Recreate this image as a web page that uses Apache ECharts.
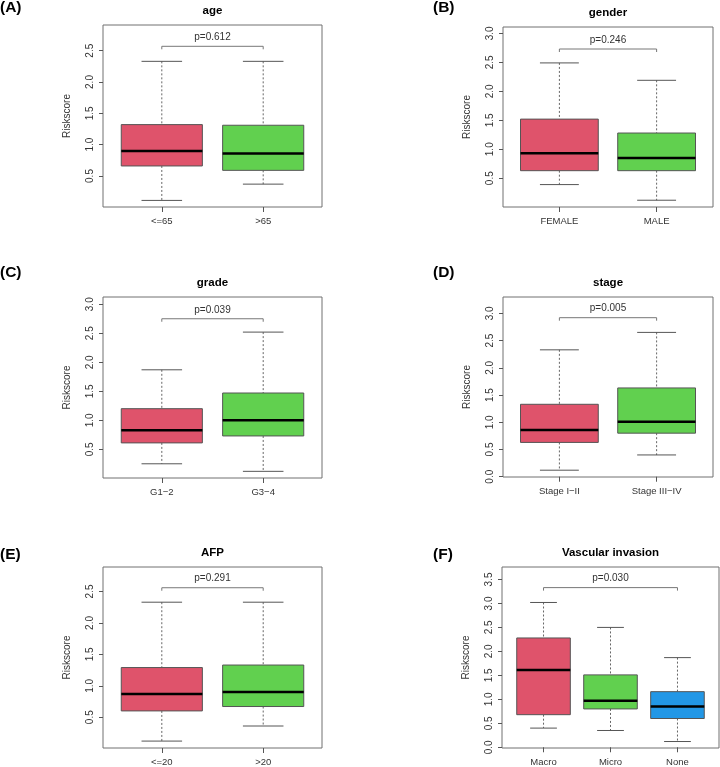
<!DOCTYPE html>
<html>
<head>
<meta charset="utf-8">
<script src="https://cdn.jsdelivr.net/npm/echarts@6/dist/echarts.min.js"></script>
<style>
  html, body { margin: 0; padding: 0; background: #fff; }
  #main { width: 720px; height: 767px; }
</style>
</head>
<body>
<div id="main"></div>
<script>
// box stats per group: [lower whisker, Q1, median, Q3, upper whisker]
var ageCats = ['<=65', '>65']
var ageStats = [[0.11, 0.66, 0.90, 1.32, 2.33], [0.37, 0.59, 0.86, 1.31, 2.33]]
var genderCats = ['FEMALE', 'MALE']
var genderStats = [[0.39, 0.63, 0.93, 1.52, 2.49], [0.12, 0.63, 0.85, 1.28, 2.19]]
var gradeCats = ['G1\u22122', 'G3\u22124']
var gradeStats = [[0.25, 0.61, 0.83, 1.20, 1.87], [0.12, 0.73, 1.00, 1.47, 2.52]]
var stageCats = ['Stage I\u2212II', 'Stage III\u2212IV']
var stageStats = [[0.12, 0.63, 0.86, 1.33, 2.33], [0.40, 0.80, 1.01, 1.63, 2.65]]
var afpCats = ['<=20', '>20']
var afpStats = [[0.12, 0.60, 0.87, 1.29, 2.33], [0.36, 0.67, 0.90, 1.33, 2.33]]
var vascCats = ['Macro', 'Micro', 'None']
var vascStats = [[0.40, 0.68, 1.61, 2.28, 3.02], [0.35, 0.80, 0.97, 1.51, 2.50], [0.12, 0.60, 0.85, 1.16, 1.87]]

var pLabels = ['p=0.612', 'p=0.246', 'p=0.039', 'p=0.005', 'p=0.291', 'p=0.030']
var bracketY = [2.57, 2.73, 2.75, 2.92, 2.56, 3.33]
var ticksA = [0.5, 1.0, 1.5, 2.0, 2.5]
var ticksB = [0.5, 1.0, 1.5, 2.0, 2.5, 3.0]
var ticksD = [0.0, 0.5, 1.0, 1.5, 2.0, 2.5, 3.0]
var ticksF = [0.0, 0.5, 1.0, 1.5, 2.0, 2.5, 3.0, 3.5]

var boxColors = ['#DF536B', '#61D04F', '#2297E6']

// layout of the six panels
var panels = [
  { tag: '(A)', title: 'age', cats: ageCats, stats: ageStats, ticks: ticksA, ymin: 0.005, ymax: 2.91,
    rect: [103, 25, 219, 182], tagPos: [0, 8] },
  { tag: '(B)', title: 'gender', cats: genderCats, stats: genderStats, ticks: ticksB, ymin: 0.003, ymax: 3.11,
    rect: [503, 27, 210, 180], tagPos: [433, 8] },
  { tag: '(C)', title: 'grade', cats: gradeCats, stats: gradeStats, ticks: ticksB, ymin: 0.005, ymax: 3.125,
    rect: [103, 297, 219, 181], tagPos: [0, 273] },
  { tag: '(D)', title: 'stage', cats: stageCats, stats: stageStats, ticks: ticksD, ymin: -0.005, ymax: 3.30,
    rect: [503, 297, 210, 180], tagPos: [433, 273] },
  { tag: '(E)', title: 'AFP', cats: afpCats, stats: afpStats, ticks: ticksA, ymin: 0.01, ymax: 2.89,
    rect: [103, 567, 219, 181], tagPos: [0, 555] },
  { tag: '(F)', title: 'Vascular invasion', cats: vascCats, stats: vascStats, ticks: ticksF, ymin: -0.015, ymax: 3.76,
    rect: [502, 567, 217, 181], tagPos: [433, 555] }
]

var FONT = 'Liberation Sans, Arial, Helvetica, sans-serif'

function renderBox(params, api) {
  var x = api.value(0)
  var lo = api.value(1), q1 = api.value(2), med = api.value(3), q3 = api.value(4), hi = api.value(5)
  var cx = api.coord([x, med])[0]
  var xl = api.coord([x - 0.4, med])[0], xr = api.coord([x + 0.4, med])[0]
  var sl = api.coord([x - 0.2, med])[0], sr = api.coord([x + 0.2, med])[0]
  var yLo = api.coord([x, lo])[1], yQ1 = api.coord([x, q1])[1], yMed = api.coord([x, med])[1]
  var yQ3 = api.coord([x, q3])[1], yHi = api.coord([x, hi])[1]
  var whisk = { stroke: '#666', lineWidth: 1, lineDash: [2, 2] }
  var cap = { stroke: '#555', lineWidth: 1 }
  return {
    type: 'group',
    children: [
      { type: 'line', shape: { x1: cx, y1: yHi, x2: cx, y2: yQ3 }, style: whisk },
      { type: 'line', shape: { x1: cx, y1: yQ1, x2: cx, y2: yLo }, style: whisk },
      { type: 'line', shape: { x1: sl, y1: yHi, x2: sr, y2: yHi }, style: cap },
      { type: 'line', shape: { x1: sl, y1: yLo, x2: sr, y2: yLo }, style: cap },
      { type: 'rect', shape: { x: xl, y: yQ3, width: xr - xl, height: yQ1 - yQ3 },
        style: { fill: boxColors[params.dataIndex], stroke: '#555', lineWidth: 1 } },
      { type: 'line', shape: { x1: xl, y1: yMed, x2: xr, y2: yMed }, style: { stroke: '#000', lineWidth: 2.5 } }
    ]
  }
}

function renderBracket(params, api) {
  var a = api.coord([api.value(0), api.value(2)])
  var b = api.coord([api.value(1), api.value(2)])
  var p = pLabels[params.seriesIndex / 2 | 0]
  return {
    type: 'group',
    children: [
      { type: 'polyline', shape: { points: [[a[0], a[1] + 3], a, b, [b[0], b[1] + 3]] },
        style: { stroke: '#777', lineWidth: 1, fill: null } },
      { type: 'text', style: { text: p, x: (a[0] + b[0]) / 2, y: a[1] - 4, align: 'center', verticalAlign: 'bottom',
        font: '10px ' + FONT, fill: '#333' } }
    ]
  }
}

var grids = [], xAxes = [], yAxes = [], series = [], graphics = []
panels.forEach(function (p, i) {
  var n = p.cats.length
  var pad = 0.04 * n
  grids.push({ left: p.rect[0], top: p.rect[1], width: p.rect[2], height: p.rect[3],
    show: true, borderColor: '#707070', borderWidth: 1, backgroundColor: 'transparent' })
  var idx = p.cats.map(function (c, k) { return k + 1 })
  xAxes.push({
    type: 'value', gridIndex: i, min: 0.5 - pad, max: n + 0.5 + pad,
    splitLine: { show: false }, axisLine: { show: false },
    axisTick: { show: true, length: 5, customValues: idx, lineStyle: { color: '#555' } },
    axisLabel: { customValues: idx, margin: 9, fontSize: 9.5, fontFamily: FONT, color: '#333',
      formatter: function (v) { return p.cats[Math.round(v) - 1] } }
  })
  yAxes.push({
    type: 'value', gridIndex: i, min: p.ymin, max: p.ymax,
    name: 'Riskscore', nameLocation: 'middle', nameRotate: 90, nameGap: 31,
    nameTextStyle: { fontSize: 10, fontFamily: FONT, color: '#333' },
    splitLine: { show: false }, axisLine: { show: false },
    axisTick: { show: true, length: 4, customValues: p.ticks, lineStyle: { color: '#555' } },
    axisLabel: { customValues: p.ticks, rotate: 90, margin: 8, fontSize: 10, fontFamily: FONT, color: '#333',
      formatter: function (v) { return v.toFixed(1) } }
  })
  series.push({
    type: 'custom', xAxisIndex: i, yAxisIndex: i, renderItem: renderBox,
    encode: { x: 0, y: [1, 2, 3, 4, 5] },
    data: p.stats.map(function (s, k) { return [k + 1].concat(s) })
  })
  series.push({
    type: 'custom', xAxisIndex: i, yAxisIndex: i, renderItem: renderBracket,
    encode: { x: [0, 1], y: 2 },
    data: [[1, n, bracketY[i]]]
  })
  graphics.push({ type: 'text', left: p.tagPos[0], top: p.tagPos[1] - 8,
    style: { text: p.tag, font: 'bold 15.5px ' + FONT, fill: '#000' } })
  graphics.push({ type: 'text', x: p.rect[0] + p.rect[2] / 2, y: p.rect[1] - 14.5,
    style: { text: p.title, font: 'bold 11.5px ' + FONT, fill: '#000', align: 'center', verticalAlign: 'middle' } })
})

var chart = echarts.init(document.getElementById('main'), null, { renderer: 'canvas' })
chart.setOption({
  animation: false,
  backgroundColor: '#fff',
  grid: grids,
  xAxis: xAxes,
  yAxis: yAxes,
  series: series,
  graphic: graphics
})
</script>
</body>
</html>
